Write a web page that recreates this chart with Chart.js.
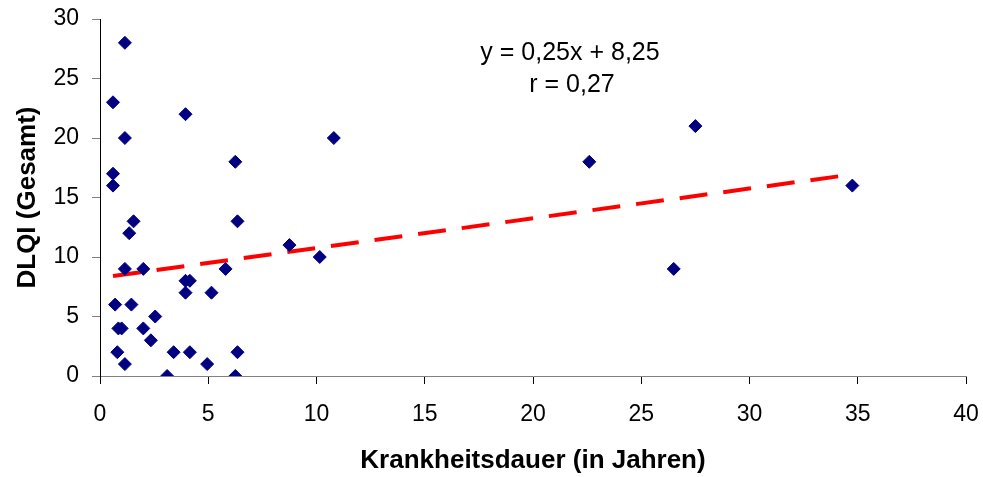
<!DOCTYPE html>
<html>
<head>
<meta charset="utf-8">
<script src="https://cdn.jsdelivr.net/npm/chart.js@4.4.0/dist/chart.umd.min.js"></script>
<style>
  html, body { margin: 0; padding: 0; background: #fff; }
  #wrap { width: 983px; height: 477px; }
</style>
</head>
<body>
<div id="wrap"><canvas id="dlqiChart" width="983" height="477"></canvas></div>
<script>
// disease duration (years) vs. DLQI total score
const durationYears = [
  1.15, 0.6, 3.95, 1.15, 10.8, 27.5, 22.6, 6.25, 0.6, 0.6,
  34.75, 1.55, 6.35, 1.35, 8.75, 10.15, 1.15, 2.0, 5.8, 26.5,
  3.95, 4.15, 3.95, 5.15, 0.7, 1.45, 2.55, 0.85, 1.0, 2.0,
  2.35, 0.8, 3.4, 4.15, 6.35, 1.15, 4.95, 3.1, 6.25
];
const dlqiScores = [
  28, 23, 22, 20, 20, 21, 18, 18, 17, 16,
  16, 13, 13, 12, 11, 10, 9, 9, 9, 9,
  8, 8, 7, 7, 6, 6, 5, 4, 4, 4,
  3, 2, 2, 2, 2, 1, 1, 0, 0
];
// linear trend line ends
const trendX = [0.6, 34.75];
const trendY = [8.4, 16.94];
const xTicks = [0, 5, 10, 15, 20, 25, 30, 35, 40];
const yTicks = [0, 5, 10, 15, 20, 25, 30];
const annotationLines = ['y = 0,25x + 8,25', 'r = 0,27'];

const fontFamily = '"Liberation Sans", Arial, Helvetica, sans-serif';

const points = durationYears.map((x, i) => ({ x: x, y: dlqiScores[i] }));
const trend = trendX.map((x, i) => ({ x: x, y: trendY[i] }));

// keep the plot area where the original has it, labels may overflow
function noOverflow(s) {
  s.paddingLeft = 0;
  s.paddingRight = 0;
  s.paddingTop = 0;
  s.paddingBottom = 0;
}

const annotationPlugin = {
  id: 'equation',
  afterDraw(chart) {
    const c = chart.ctx;
    c.save();
    c.fillStyle = '#000';
    c.font = '25px ' + fontFamily;
    c.textAlign = 'center';
    c.textBaseline = 'middle';
    c.fillText(annotationLines[0], 570, 53);
    c.fillText(annotationLines[1], 572, 85);
    c.restore();
  }
};

const ctx = document.getElementById('dlqiChart').getContext('2d');
const chart = new Chart(ctx, {
  type: 'scatter',
  data: {
    datasets: [{
      label: 'DLQI',
      data: points,
      pointStyle: 'rectRot',
      pointRadius: 6.5,
      backgroundColor: '#000080',
      borderColor: '#000080',
      borderWidth: 1
    }, {
      label: 'Trend',
      type: 'line',
      data: trend,
      borderColor: '#ff0000',
      borderWidth: 4,
      borderDash: [28, 16],
      pointRadius: 0,
      fill: false,
      tension: 0
    }]
  },
  options: {
    responsive: false,
    animation: false,
    events: [],
    layout: { padding: { top: 19, right: 17, left: 0, bottom: 0 } },
    plugins: {
      legend: { display: false },
      tooltip: { enabled: false }
    },
    scales: {
      x: {
        type: 'linear',
        min: 0,
        max: 40,
        afterBuildTicks: (s) => { s.ticks = xTicks.map(v => ({ value: v })); },
        afterFit: (s) => { s.height = 101; noOverflow(s); },
        grid: { drawOnChartArea: false, drawTicks: true, tickLength: 8, tickColor: '#000' },
        border: { color: '#808080', width: 1 },
        ticks: { color: '#000', padding: 17, maxRotation: 0, font: { family: fontFamily, size: 23 } },
        title: {
          display: true,
          text: 'Krankheitsdauer (in Jahren)',
          color: '#000',
          padding: { top: 0, bottom: 1 },
          font: { family: fontFamily, size: 26, weight: 'bold' }
        }
      },
      y: {
        type: 'linear',
        min: 0,
        max: 30,
        afterBuildTicks: (s) => { s.ticks = yTicks.map(v => ({ value: v })); },
        afterFit: (s) => { s.width = 100; noOverflow(s); },
        grid: { drawOnChartArea: false, drawTicks: true, tickLength: 8, tickColor: '#808080' },
        border: { color: '#000', width: 1 },
        ticks: { color: '#000', padding: 13, font: { family: fontFamily, size: 23 } },
        title: {
          display: true,
          text: 'DLQI (Gesamt)',
          color: '#000',
          padding: { top: 12, bottom: 0 },
          font: { family: fontFamily, size: 26, weight: 'bold' }
        }
      }
    }
  },
  plugins: [annotationPlugin]
});
</script>
</body>
</html>
